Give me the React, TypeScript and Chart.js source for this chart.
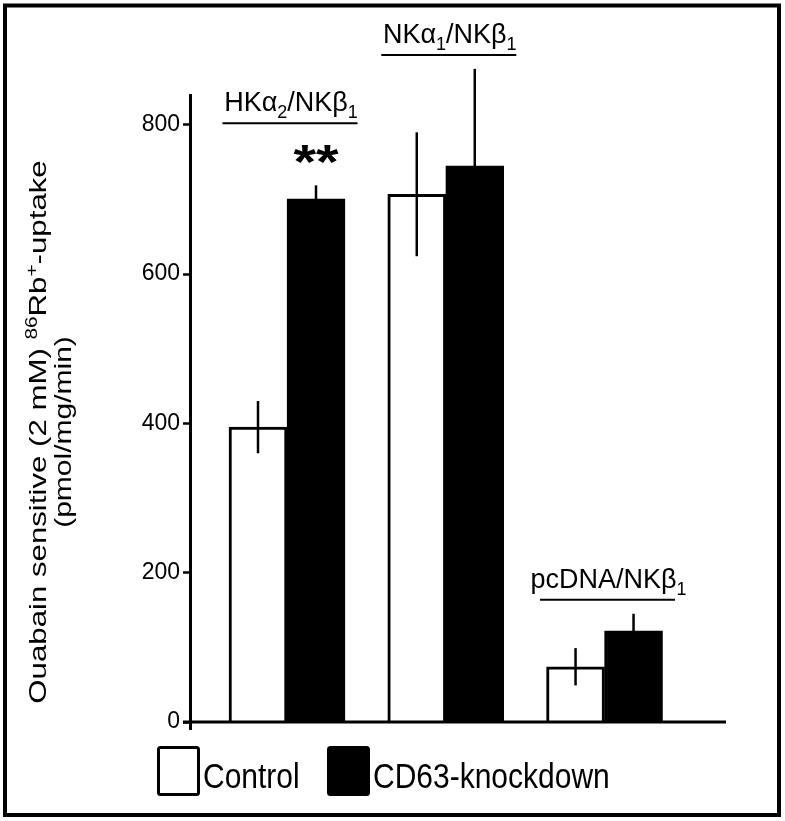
import React, { useEffect, useRef } from 'react';
import { Chart, registerables } from 'chart.js';

Chart.register(...registerables);

// ---------------- data ----------------
const groups = ['HKα_2/NKβ_1', 'NKα_1/NKβ_1', 'pcDNA/NKβ_1'];
const seriesNames = ['Control', 'CD63-knockdown'];
const controlValues = [395, 707, 74];
const controlErrors = [35, 83, 25];
const knockdownValues = [701, 745, 122];
const knockdownErrors = [18, 130, 23];
const knockdownSignificance = ['**', '', ''];
const yTicks = [0, 200, 400, 600, 800];
const yTitleLines = ['Ouabain sensitive (2 mM) ^{86}Rb^{+}-uptake', '(pmol/mg/min)'];

// ---------------- style / layout ----------------
const FONT = '"Liberation Sans", Arial, Helvetica, sans-serif';
const W = 785;
const H = 821;
const Y_MAX = 840;
const X_MIN = 0.389;
const X_MAX = 3.765;

type Seg = { t: string; k: '' | 'sub' | 'sup' };

function parseRich(s: string): Seg[] {
  const segs: Seg[] = [];
  let i = 0;
  let buf = '';
  while (i < s.length) {
    const c = s[i];
    if (c === '_' || c === '^') {
      if (buf) {
        segs.push({ t: buf, k: '' });
        buf = '';
      }
      let t = '';
      if (s[i + 1] === '{') {
        const j = s.indexOf('}', i + 2);
        t = s.slice(i + 2, j);
        i = j + 1;
      } else {
        t = s[i + 1];
        i += 2;
      }
      segs.push({ t, k: c === '_' ? 'sub' : 'sup' });
    } else {
      buf += c;
      i++;
    }
  }
  if (buf) segs.push({ t: buf, k: '' });
  return segs;
}

function drawRich(
  ctx: CanvasRenderingContext2D,
  text: string,
  x: number,
  y: number,
  size: number,
  opts: { align: 'left' | 'center'; weight?: string; sx?: number; sy?: number; rotate?: number }
) {
  const segs = parseRich(text);
  const small = Math.round(size * 0.65);
  const fontFor = (k: string) => `${opts.weight || 'normal'} ${k ? small : size}px ${FONT}`;
  let total = 0;
  const widths = segs.map((sg) => {
    ctx.font = fontFor(sg.k);
    const w = ctx.measureText(sg.t).width;
    total += w;
    return w;
  });
  ctx.save();
  ctx.translate(x, y);
  if (opts.rotate) ctx.rotate(opts.rotate);
  ctx.scale(opts.sx ?? 1, opts.sy ?? 1);
  ctx.textBaseline = 'alphabetic';
  ctx.textAlign = 'left';
  ctx.fillStyle = '#000';
  let cx = opts.align === 'center' ? -total / 2 : 0;
  segs.forEach((sg, i) => {
    ctx.font = fontFor(sg.k);
    const dy = sg.k === 'sub' ? size * 0.25 : sg.k === 'sup' ? -size * 0.38 : 0;
    ctx.fillText(sg.t, cx, dy);
    cx += widths[i];
  });
  ctx.restore();
  return total;
}

const seriesValues = [controlValues, knockdownValues];
const seriesErrors = [controlErrors, knockdownErrors];

const decorPlugin = {
  id: 'decor',
  beforeDraw(chart: any) {
    const ctx = chart.ctx as CanvasRenderingContext2D;
    ctx.save();
    ctx.fillStyle = '#fff';
    ctx.fillRect(0, 0, chart.width, chart.height);
    ctx.restore();
  },
  afterDatasetsDraw(chart: any) {
    const ctx = chart.ctx as CanvasRenderingContext2D;
    const ys = chart.scales.y;
    const area = chart.chartArea;
    ctx.save();
    ctx.strokeStyle = '#000';
    ctx.lineCap = 'butt';
    // error bars
    ctx.lineWidth = 2.5;
    seriesValues.forEach((vals, si) => {
      const meta = chart.getDatasetMeta(si);
      vals.forEach((v, j) => {
        const e = seriesErrors[si][j];
        const x = meta.data[j].x;
        ctx.beginPath();
        ctx.moveTo(x, ys.getPixelForValue(v + e));
        ctx.lineTo(x, ys.getPixelForValue(v - e));
        ctx.stroke();
      });
    });
    // baseline + axis extension
    const y0 = ys.getPixelForValue(0);
    ctx.lineWidth = 3;
    ctx.beginPath();
    ctx.moveTo(ys.right - 7, y0);
    ctx.lineTo(area.right, y0);
    ctx.stroke();
    ctx.beginPath();
    ctx.moveTo(ys.right + 0.5, y0);
    ctx.lineTo(ys.right + 0.5, y0 + 8);
    ctx.stroke();
    ctx.restore();
  },
  afterDraw(chart: any) {
    const ctx = chart.ctx as CanvasRenderingContext2D;
    const ys = chart.scales.y;
    const m0 = chart.getDatasetMeta(0);
    const m1 = chart.getDatasetMeta(1);

    // group labels, stars
    groups.forEach((g, j) => {
      const c = (m0.data[j].x + m1.data[j].x) / 2;
      const errTop = Math.min(
        ...seriesValues.map((vals, si) => ys.getPixelForValue(vals[j] + seriesErrors[si][j]))
      );
      const sig = knockdownSignificance[j];
      if (sig) {
        ctx.save();
        ctx.font = `bold 58px ${FONT}`;
        ctx.textAlign = 'center';
        ctx.textBaseline = 'alphabetic';
        ctx.fillStyle = '#000';
        const mt = ctx.measureText(sig);
        const bottom = ys.getPixelForValue(knockdownValues[j] + knockdownErrors[j]) - 22;
        const sy = 0.82;
        ctx.translate(m1.data[j].x, bottom);
        ctx.scale(1, sy);
        ctx.fillText(sig, 0, -mt.actualBoundingBoxDescent);
        ctx.restore();
      }
      const underline = errTop - 14 - (sig ? 48 : 0);
      ctx.save();
      ctx.strokeStyle = '#000';
      ctx.lineWidth = 2;
      ctx.beginPath();
      ctx.moveTo(c + 3 - 67.5, underline);
      ctx.lineTo(c + 3 + 67.5, underline);
      ctx.stroke();
      ctx.restore();
      drawRich(ctx, g, c + 4, underline - 12, 27, { align: 'center' });
    });

    // y title
    const cy = 432;
    drawRich(ctx, yTitleLines[0], 46, cy, 24, { align: 'center', rotate: -Math.PI / 2, sx: 1.3 });
    drawRich(ctx, yTitleLines[1], 71, cy, 24, { align: 'center', rotate: -Math.PI / 2, sx: 1.25 });

    // legend
    const legX = [157, 327];
    const legY = 746;
    chart.data.datasets.forEach((ds: any, i: number) => {
      ctx.save();
      ctx.fillStyle = ds.backgroundColor;
      ctx.strokeStyle = '#000';
      ctx.lineWidth = 3;
      ctx.beginPath();
      (ctx as any).roundRect(legX[i] + 1.5, legY + 1.5, 40, 47, 2);
      ctx.fill();
      ctx.stroke();
      ctx.restore();
      drawRich(ctx, ds.label, legX[i] + 46, 788, 30, { align: 'left', sy: 1.15 });
    });

    // frame
    ctx.save();
    ctx.strokeStyle = '#000';
    ctx.lineWidth = 4;
    ctx.strokeRect(5, 5.5, 774, 809.5);
    ctx.restore();
  },
};

export default function App() {
  const ref = useRef<HTMLCanvasElement | null>(null);
  useEffect(() => {
    document.body.style.margin = '0';
    const canvas = ref.current;
    if (!canvas) return;
    const mk = (vals: number[]) => vals.map((v, i) => ({ x: i + 1, y: v }));
    const chart = new Chart(canvas, {
      type: 'bar',
      data: {
        datasets: [
          {
            label: seriesNames[0],
            data: mk(controlValues),
            backgroundColor: '#ffffff',
            borderColor: '#000000',
            borderWidth: 3,
            barThickness: 58,
          },
          {
            label: seriesNames[1],
            data: mk(knockdownValues),
            backgroundColor: '#000000',
            borderColor: '#000000',
            borderWidth: 3,
            barThickness: 58,
          },
        ],
      } as any,
      options: {
        responsive: false,
        animation: false,
        devicePixelRatio: 1,
        layout: { padding: { left: 0, top: 95, right: 59, bottom: 99 } },
        plugins: { legend: { display: false }, tooltip: { enabled: false } },
        scales: {
          x: { type: 'linear', display: false, offset: false, min: X_MIN, max: X_MAX },
          y: {
            min: 0,
            max: Y_MAX,
            afterFit: (s: any) => {
              s.width = 190;
            },
            afterBuildTicks: (s: any) => {
              s.ticks = yTicks.map((v) => ({ value: v }));
            },
            border: { display: true, color: '#000', width: 3 },
            grid: {
              drawOnChartArea: false,
              drawTicks: true,
              tickLength: 7,
              tickWidth: 2.5,
              tickColor: '#000',
            },
            ticks: {
              color: '#000',
              padding: 3,
              font: { family: FONT, size: 23 },
            },
          },
        },
      } as any,
      plugins: [decorPlugin],
    });
    return () => chart.destroy();
  }, []);
  return (
    <div style={{ position: 'fixed', left: 0, top: 0, width: W, height: H }}>
      <canvas ref={ref} width={W} height={H} style={{ display: 'block', width: W, height: H }} />
    </div>
  );
}
